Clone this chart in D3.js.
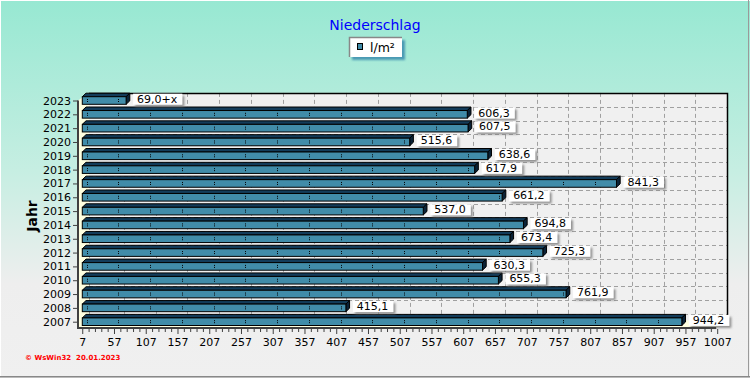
<!DOCTYPE html>
<html><head><meta charset="utf-8">
<script src="https://cdn.jsdelivr.net/npm/d3@7"></script>
<style>body{margin:0;padding:0;overflow:hidden;background:#fff}svg{display:block}</style>
</head><body>
<svg id="chart" width="750" height="378"></svg>
<script>
const years = ["2023","2022","2021","2020","2019","2018","2017","2016","2015","2014","2013","2012","2011","2010","2009","2008","2007"];
const values = [69.0,606.3,607.5,515.6,638.6,617.9,841.3,661.2,537.0,694.8,673.4,725.3,630.3,655.3,761.9,415.1,944.2];
const valueLabels = ["69,0+x","606,3","607,5","515,6","638,6","617,9","841,3","661,2","537,0","694,8","673,4","725,3","630,3","655,3","761,9","415,1","944,2"];
const tickValues = [7,57,107,157,207,257,307,357,407,457,507,557,607,657,707,757,807,857,907,957,1007];
const minorTickValues = d3.range(7, 1008, 10).filter(v => !tickValues.includes(v));
const title = "Niederschlag";
const seriesName = "l/m²";
const yTitle = "Jahr";
const footer = "© WsWin32  20.01.2023";

const svg = d3.select("#chart");
const W = 750, H = 378;
const defs = svg.append("defs");
const bg = defs.append("linearGradient").attr("id","bg").attr("x1",0).attr("y1",0).attr("x2",0).attr("y2",1);
bg.append("stop").attr("offset","0%").attr("stop-color","#97e8d2");
bg.append("stop").attr("offset","45%").attr("stop-color","#c6eee2");
bg.append("stop").attr("offset","75%").attr("stop-color","#eeeeee");
bg.append("stop").attr("offset","100%").attr("stop-color","#f0f0f0");
const sh = defs.append("filter").attr("id","sh").attr("x","-20%").attr("y","-40%").attr("width","150%").attr("height","200%");
sh.append("feDropShadow").attr("dx",2).attr("dy",2).attr("stdDeviation",1).attr("flood-color","#777").attr("flood-opacity",0.8);
const lsh = defs.append("filter").attr("id","lsh").attr("x","-20%").attr("y","-40%").attr("width","150%").attr("height","200%");
lsh.append("feGaussianBlur").attr("stdDeviation",1.2);

svg.append("rect").attr("width",W).attr("height",H).attr("fill","url(#bg)");
// window border
svg.append("line").attr("x1",0).attr("y1",0.5).attr("x2",W).attr("y2",0.5).attr("stroke","#ffffff");
svg.append("line").attr("x1",0.5).attr("y1",0).attr("x2",0.5).attr("y2",H).attr("stroke","#ffffff");
svg.append("line").attr("x1",748.5).attr("y1",0).attr("x2",748.5).attr("y2",H).attr("stroke","#9a9a9a");
svg.append("line").attr("x1",0).attr("y1",376.5).attr("x2",W).attr("y2",376.5).attr("stroke","#888");
svg.append("line").attr("x1",0).attr("y1",377.5).attr("x2",W).attr("y2",377.5).attr("stroke","#bbb");

// scales
const x = d3.scaleLinear().domain([0,1007]).range([82.3,721.7]);
const y = d3.scalePoint().domain(years).range([100.5,321.7]);

const DX = 5.5, DY = 7.6; // half depth of plot planes
const frontBottom = 328, backBottom = frontBottom - DY;
const leftFront = 78, leftBack = 89;
const backTop = y(years[0]) - DY;
const backRight = x(1007) + DX;

// back wall
svg.append("rect").attr("x",leftBack).attr("y",backTop).attr("width",backRight-leftBack).attr("height",backBottom-backTop).attr("fill","#f0f0f0");
// left wall
svg.append("polygon").attr("points",[[leftFront,frontBottom],[leftFront,backTop+DY],[leftBack,backTop],[leftBack,backBottom]].join(" ")).attr("fill","#ffffe0");
// floor
svg.append("polygon").attr("points",[[leftFront,frontBottom],[x(1007)-DX,frontBottom],[backRight,backBottom],[leftBack,backBottom]].join(" ")).attr("fill","#ffffe0");

// grid on back wall
const grid = svg.append("g").attr("stroke","#a0a0a0").attr("stroke-dasharray","4,3").attr("stroke-width",1);
grid.selectAll("line.v").data(tickValues.slice(1,-1)).join("line")
  .attr("x1",d=>Math.round(x(d)+DX)+0.5).attr("x2",d=>Math.round(x(d)+DX)+0.5)
  .attr("y1",backTop).attr("y2",backBottom);
grid.selectAll("line.h").data(years.slice(1)).join("line")
  .attr("x1",leftBack).attr("x2",backRight)
  .attr("y1",d=>Math.round(y(d)-DY)+0.5).attr("y2",d=>Math.round(y(d)-DY)+0.5);
grid.append("line").attr("x1",leftBack+0.5).attr("x2",leftBack+0.5).attr("y1",backTop).attr("y2",backBottom);
// frame of back wall
svg.append("path").attr("d",`M${leftBack},${Math.round(backTop)+0.5}H${Math.round(backRight)+0.5}V${backBottom}`).attr("fill","none").attr("stroke","#000").attr("stroke-width",1.5);

// bars
const BH = 3.8, bdx = 3.7, bdy = 3.5;
const bars = svg.append("g");
years.forEach((yr,i) => {
  const v = values[i], yc = y(yr), x0 = x(0), x1 = x(v);
  const g = bars.append("g");
  g.append("polygon").attr("points",[[x0,yc-BH],[x0+bdx,yc-BH-bdy],[x1+bdx,yc-BH-bdy],[x1,yc-BH]].join(" "))
    .attr("fill","#133c5a").attr("stroke","#000").attr("stroke-width",1);
  g.append("polygon").attr("points",[[x1,yc-BH],[x1+bdx,yc-BH-bdy],[x1+bdx,yc+BH-bdy],[x1,yc+BH]].join(" "))
    .attr("fill","#0a2236").attr("stroke","#000").attr("stroke-width",1);
  g.append("rect").attr("x",x0).attr("y",yc-BH).attr("width",x1-x0).attr("height",2*BH)
    .attr("fill","#418ca9").attr("stroke","#000").attr("stroke-width",1);
  g.selectAll("line").data(tickValues.filter(t => x(t) < x1-1)).join("line")
    .attr("x1",t=>Math.round(x(t))+0.5).attr("x2",t=>Math.round(x(t))+0.5)
    .attr("y1",yc-1.5).attr("y2",yc+2.5).attr("stroke","#000").attr("stroke-dasharray","1,1");
});

// value labels
const labels = svg.append("g").attr("font-family","DejaVu Sans").attr("font-size",11);
years.forEach((yr,i) => {
  const v = values[i], yc = y(yr);
  const lx = x(v) + 7;
  const g = labels.append("g");
  const r = g.append("rect").attr("x",lx).attr("y",yc-6.8).attr("height",11).attr("fill","#fff").attr("filter","url(#sh)");
  const t = g.append("text").attr("x",lx+4).attr("y",yc-1.3).attr("dominant-baseline","central").attr("fill","#000").text(valueLabels[i]);
  r.attr("width", t.node().getComputedTextLength()+9);
});

// axes lines
svg.append("line").attr("x1",leftFront).attr("x2",leftFront).attr("y1",backTop+DY).attr("y2",frontBottom+1).attr("stroke","#404040").attr("stroke-width",2);
svg.append("line").attr("x1",leftFront-1).attr("x2",x(1007)-DX).attr("y1",frontBottom).attr("y2",frontBottom).attr("stroke","#404040").attr("stroke-width",2);

// x axis (front plane)
const xAxisG = svg.append("g").attr("transform",`translate(${-DX+1},${frontBottom+1})`)
  .call(d3.axisBottom(x).tickValues(tickValues).tickSize(5).tickSizeOuter(0).tickFormat(d3.format("d")));
xAxisG.select(".domain").remove();
xAxisG.selectAll(".tick line").attr("stroke","#404040");
xAxisG.selectAll(".tick text").attr("font-family","DejaVu Sans").attr("font-size",11).attr("fill","#000").attr("y",9);
const xMinor = svg.append("g").attr("transform",`translate(${-DX+1},${frontBottom+1})`)
  .call(d3.axisBottom(x).tickValues(minorTickValues).tickSize(3).tickFormat(""));
xMinor.select(".domain").remove();
xMinor.selectAll(".tick line").attr("stroke","#404040");

// y axis
const yAxisG = svg.append("g").attr("transform",`translate(${leftFront},0)`)
  .call(d3.axisLeft(y).tickSize(5).tickPadding(2));
yAxisG.select(".domain").remove();
yAxisG.selectAll(".tick line").attr("stroke","#404040");
yAxisG.selectAll(".tick text").attr("font-family","DejaVu Sans").attr("font-size",11).attr("fill","#000");

// y title
svg.append("text").attr("transform","translate(37,216) rotate(-90)").attr("text-anchor","middle")
  .attr("font-family","DejaVu Sans").attr("font-weight","bold").attr("font-size",14).attr("fill","#000").text(yTitle);

// title
svg.append("text").attr("x",375).attr("y",30).attr("text-anchor","middle")
  .attr("font-family","DejaVu Sans").attr("font-size",14).attr("fill","#0000ff").text(title);

// legend
const lg = svg.append("g");
lg.append("rect").attr("x",352).attr("y",40).attr("width",53).attr("height",20).attr("fill","#4b9ab4").attr("filter","url(#lsh)");
lg.append("rect").attr("x",349).attr("y",37).attr("width",53).attr("height",20).attr("fill","#fff");
lg.append("path").attr("d","M349.5,57V37.5H402").attr("fill","none").attr("stroke","#888").attr("stroke-width",1.5);
lg.append("rect").attr("x",357.5).attr("y",43.5).attr("width",5).attr("height",6).attr("fill","#418ca9").attr("stroke","#000");
lg.append("text").attr("x",370).attr("y",47).attr("dominant-baseline","central")
  .attr("font-family","DejaVu Sans").attr("font-size",12.5).attr("fill","#000").text(seriesName);

// footer
svg.append("text").attr("x",25).attr("y",360).attr("font-family","DejaVu Sans").attr("font-weight","bold")
  .attr("font-size",7).attr("fill","#ff0000").style("white-space","pre").text(footer);
</script>
</body></html>
